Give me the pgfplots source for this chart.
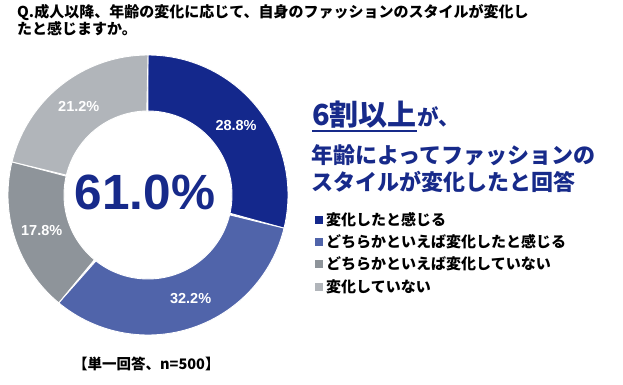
\documentclass[border=0pt]{standalone}
\usepackage{pgfplots}
\pgfplotsset{compat=1.18}
\usepackage{pgfplotstable}
\usepackage{fontspec}
\setmainfont{Liberation Sans}
\newfontfamily\jp{Noto Sans CJK JP}
\definecolor{cA}{HTML}{14288C}
\definecolor{cB}{HTML}{5064AA}
\definecolor{cC}{HTML}{8E949A}
\definecolor{cD}{HTML}{B1B5BA}
\definecolor{navy}{HTML}{172A8A}

\pgfplotstableread{
idx value
1 28.8
2 32.2
3 17.8
4 21.2
}\donutdata

\begin{document}
\begin{tikzpicture}[x=1bp,y=1bp]
\useasboundingbox (0,0) rectangle (623,384);
% angles from the table
\pgfplotstablegetelem{0}{value}\of\donutdata \let\vA\pgfplotsretval
\pgfplotstablegetelem{1}{value}\of\donutdata \let\vB\pgfplotsretval
\pgfplotstablegetelem{2}{value}\of\donutdata \let\vC\pgfplotsretval
\pgfplotstablegetelem{3}{value}\of\donutdata \let\vD\pgfplotsretval
\pgfmathsetmacro\aO{90}
\pgfmathsetmacro\aA{90-3.6*\vA}
\pgfmathsetmacro\aB{\aA-3.6*\vB}
\pgfmathsetmacro\aC{\aB-3.6*\vC}
\pgfmathsetmacro\aD{\aC-3.6*\vD}
\pgfmathsetmacro\mA{(\aO+\aA)/2}
\pgfmathsetmacro\mB{(\aA+\aB)/2+4}
\pgfmathsetmacro\mC{(\aB+\aC)/2}
\pgfmathsetmacro\mD{(\aC+\aD)/2}
\begin{axis}[
  at={(148,189)}, anchor=center,
  width=280bp, height=280bp, scale only axis,
  hide axis, xmin=-140, xmax=140, ymin=-140, ymax=140,
  clip=false,
  every axis plot/.append style={draw=white, line width=0.9pt},
]
\foreach \s/\e/\c in {\aO/\aA/cA, \aA/\aB/cB, \aB/\aC/cC, \aC/\aD/cD}{
  \edef\tmp{\noexpand\addplot[fill=\c, variable=\noexpand\t, domain=0:2, samples=181]
   ({ifthenelse(\noexpand\t<=1,140,84)*cos(ifthenelse(\noexpand\t<=1,\s+(\e-\s)*\noexpand\t,\e+(\s-\e)*(\noexpand\t-1)))},
    {ifthenelse(\noexpand\t<=1,140,84)*sin(ifthenelse(\noexpand\t<=1,\s+(\e-\s)*\noexpand\t,\e+(\s-\e)*(\noexpand\t-1)))}) -- cycle;}
  \tmp
}
\node[white, font=\bfseries\fontsize{14.5bp}{16bp}\selectfont] at (axis cs:{112*cos(\mA)},{112*sin(\mA)}) {\vA\%};
\node[white, font=\bfseries\fontsize{14.5bp}{16bp}\selectfont] at (axis cs:{112*cos(\mB)},{112*sin(\mB)}) {\vB\%};
\node[white, font=\bfseries\fontsize{14.5bp}{16bp}\selectfont] at (axis cs:{112*cos(\mC)},{112*sin(\mC)}) {\vC\%};
\node[white, font=\bfseries\fontsize{14.5bp}{16bp}\selectfont] at (axis cs:{112*cos(\mD)},{112*sin(\mD)}) {\vD\%};
\node[navy, font=\bfseries\fontsize{49.5bp}{54bp}\selectfont] at (axis cs:-3,3) {61.0\%};
\end{axis}
% title
\node[anchor=base west, inner sep=0, font=\jp\bfseries\fontsize{15bp}{18bp}\selectfont] at (17,367) {Q.成人以降、年齢の変化に応じて、自身のファッションのスタイルが変化し};
\node[anchor=base west, inner sep=0, font=\jp\bfseries\fontsize{15bp}{18bp}\selectfont] at (17,350) {たと感じますか。};
% headline
\node[anchor=base west, inner sep=0, navy, font=\jp\bfseries\fontsize{29bp}{32bp}\selectfont] (six) at (312,259) {6割以上};
\fill[navy] ([yshift=-4.5bp]six.base west) rectangle ([yshift=-6.5bp]six.base east);
\node[anchor=base west, inner sep=0, navy, font=\jp\bfseries\fontsize{21.5bp}{24bp}\selectfont] at (six.base east) {が、};
\node[anchor=base west, inner sep=0, navy, font=\jp\bfseries\fontsize{22bp}{24bp}\selectfont] at (311,221) {年齢によってファッションの};
\node[anchor=base west, inner sep=0, navy, font=\jp\bfseries\fontsize{22bp}{24bp}\selectfont] at (311,194) {スタイルが変化したと回答};
% legend
\foreach \y/\c/\t in {164/cA/変化したと感じる, 142/cB/どちらかといえば変化したと感じる, 120/cC/どちらかといえば変化していない, 97/cD/変化していない}{
  \fill[\c] (315,\y-4) rectangle (323,\y+4);
  \node[anchor=west, inner sep=0, font=\jp\bfseries\fontsize{15bp}{18bp}\selectfont] at (326,\y) {\t};
}
% note
\node[anchor=base west, inner sep=0, font=\jp\bfseries\fontsize{14.5bp}{17bp}\selectfont] at (73,14.5) {【単一回答、n=500】};
\end{tikzpicture}
\end{document}
